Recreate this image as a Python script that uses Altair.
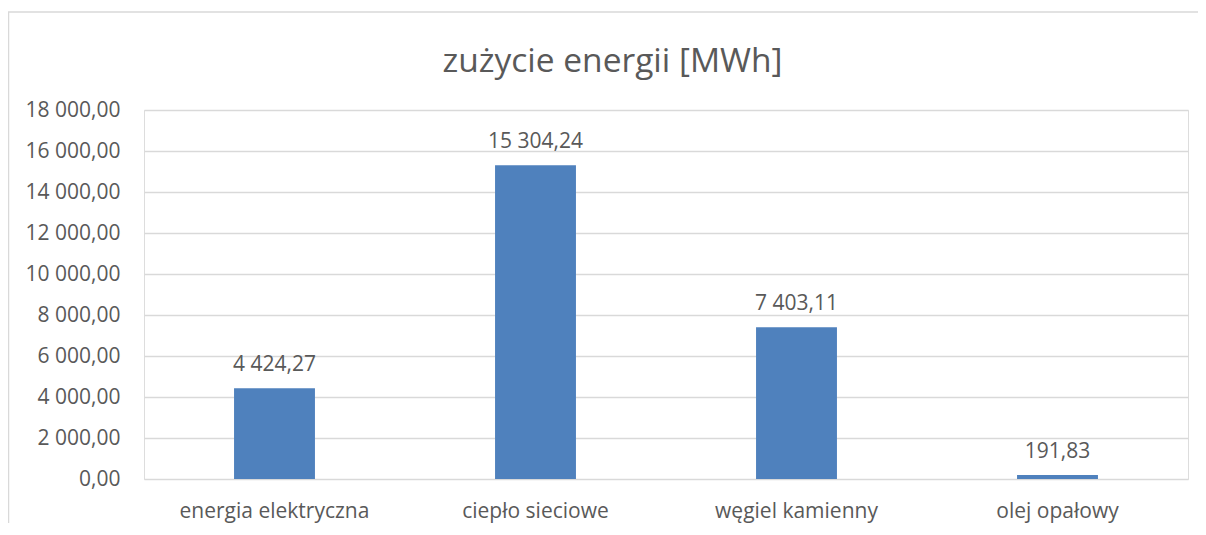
import altair as alt
import pandas as pd

title_text = ["zużycie energii [MWh]"]
categories = ["energia elektryczna", "ciepło sieciowe", "węgiel kamienny", "olej opałowy"]
values = [4424.27, 15304.24, 7403.11, 191.83]
y_ticks = [0, 2000, 4000, 6000, 8000, 10000, 12000, 14000, 16000, 18000]

df = pd.DataFrame({"kategoria": categories, "wartosc": values})

FONT = "Open Sans"
GREY = "#595959"

x_enc = alt.X("kategoria:N", sort=None, title=None,
              scale=alt.Scale(paddingInner=0.69, paddingOuter=0.345),
              axis=alt.Axis(labelAngle=0, ticks=False, tickSize=0, domain=False,
                            labelPadding=38, labelBaseline="alphabetic", labelLimit=0,
                            labelFont=FONT, labelFontSize=21, labelColor=GREY, grid=False))
y_enc = alt.Y("wartosc:Q", title=None,
              scale=alt.Scale(domain=[0, 18000], nice=False),
              axis=alt.Axis(values=y_ticks, format=",.2f", ticks=False, tickSize=0, domain=False,
                            labelPadding=24, labelFont=FONT, labelFontSize=21, labelColor=GREY,
                            grid=True, gridColor="#D9D9D9", gridWidth=1.5))

base = alt.Chart(df)
bars = base.mark_bar(color="#4F81BD").encode(x=x_enc, y=y_enc)
labels = base.mark_text(dy=-17, baseline="alphabetic", font=FONT, fontSize=21, color=GREY).encode(
    x=alt.X("kategoria:N", sort=None), y="wartosc:Q", text=alt.Text("wartosc:Q", format=",.2f"))

title_df = pd.DataFrame({"t": title_text})
title = alt.Chart(title_df).mark_text(align="center", baseline="alphabetic", font=FONT,
                                      fontSize=33.5, color=GREY).encode(
    x=alt.value(468.5), y=alt.value(-38), text="t:N")

frame_df = pd.DataFrame({"k": [0]})
frame_left = alt.Chart(frame_df).mark_rule(color="#D9D9D9", strokeWidth=1.5).encode(
    x=alt.value(-135.5), y=alt.value(-98), y2=alt.value(420))
frame_top = alt.Chart(frame_df).mark_rule(color="#D9D9D9", strokeWidth=1.5).encode(
    x=alt.value(-136), x2=alt.value(1054), y=alt.value(-98))

chart = alt.layer(frame_left, frame_top, bars, labels, title).properties(
    width=1044, height=369,
    autosize=alt.AutoSizeParams(type="none"),
    padding={"left": 136, "top": 102, "right": 10, "bottom": 44},
).configure_view(stroke=None).configure(
    locale={"number": {"decimal": ",", "thousands": "\u00a0", "grouping": [3], "currency": ["", " zł"]}}
)

chart.save("out.html", embed_options={"renderer": "svg", "actions": False})
